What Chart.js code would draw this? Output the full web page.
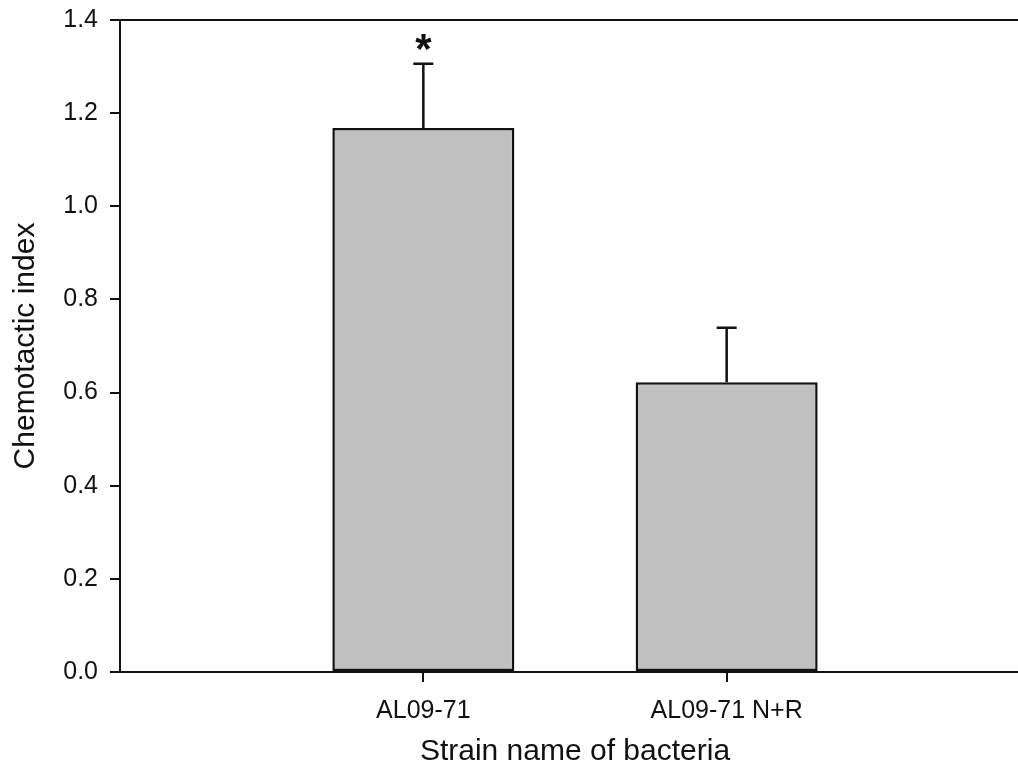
<!DOCTYPE html>
<html>
<head>
<meta charset="utf-8">
<script src="https://cdn.jsdelivr.net/npm/chart.js@4/dist/chart.umd.min.js"></script>
<style>
  html, body { margin: 0; padding: 0; background: #ffffff; overflow: hidden; }
  #wrap { width: 1018px; height: 782px; overflow: hidden; }
</style>
</head>
<body>
<div id="wrap"><canvas id="c" width="1030" height="782"></canvas></div>
<script>
// ---- data ----
const categories = ['AL09-71', 'AL09-71 N+R'];
const categoryPositions = [1, 2];
const chemotacticIndex = [1.168, 0.622];
const errorUpper = [0.138, 0.117];
const significance = ['*', ''];
const yTicks = [0.0, 0.2, 0.4, 0.6, 0.8, 1.0, 1.2, 1.4];

const INK = '#111111';
const FONT = "'Liberation Sans', Arial, Helvetica, sans-serif";

const points = categoryPositions.map((x, i) => ({ x: x, y: chemotacticIndex[i] }));

const errorBarPlugin = {
  id: 'errorBars',
  afterDatasetsDraw(chart) {
    const ctx = chart.ctx;
    const yScale = chart.scales.y;
    const meta = chart.getDatasetMeta(0);
    ctx.save();
    ctx.strokeStyle = INK;
    ctx.lineWidth = 2.5;
    meta.data.forEach((bar, i) => {
      const x = bar.x;
      const yBase = yScale.getPixelForValue(chemotacticIndex[i]);
      const yTop = yScale.getPixelForValue(chemotacticIndex[i] + errorUpper[i]);
      const cap = 10;
      ctx.beginPath();
      ctx.moveTo(x, yBase);
      ctx.lineTo(x, yTop);
      ctx.moveTo(x - cap, yTop);
      ctx.lineTo(x + cap, yTop);
      ctx.stroke();
      if (significance[i]) {
        ctx.fillStyle = INK;
        ctx.font = 'bold 42px ' + FONT;
        ctx.textAlign = 'center';
        ctx.textBaseline = 'alphabetic';
        ctx.fillText(significance[i], x, yTop - 1);
      }
    });
    ctx.restore();
  }
};

new Chart(document.getElementById('c'), {
  type: 'bar',
  data: {
    datasets: [{
      data: points,
      backgroundColor: '#c0c0c0',
      borderColor: INK,
      borderWidth: 2.5,
      borderSkipped: false,
      barPercentage: 0.6,
      categoryPercentage: 1.0
    }]
  },
  options: {
    responsive: false,
    animation: false,
    layout: { padding: { top: 20, right: 0, bottom: 0, left: 0 } },
    plugins: { legend: { display: false }, tooltip: { enabled: false } },
    scales: {
      x: {
        type: 'linear',
        position: 'bottom',
        offset: false,
        min: 0,
        max: 3,
        afterBuildTicks(scale) { scale.ticks = categoryPositions.map(v => ({ value: v })); },
        afterFit(scale) { scale.height = 110; scale.paddingLeft = 0; scale.paddingRight = 0; },
        ticks: {
          autoSkip: false,
          maxRotation: 0,
          padding: 14,
          color: INK,
          font: { family: FONT, size: 25 },
          callback(value) {
            const i = categoryPositions.indexOf(value);
            return i >= 0 ? categories[i] : '';
          }
        },
        grid: { display: true, offset: false, drawOnChartArea: false, drawTicks: true, tickLength: 10, tickWidth: 2, tickColor: INK, color: INK, lineWidth: 2 },
        border: { display: true, color: INK, width: 2 },
        title: {
          display: true,
          text: 'Strain name of bacteria',
          color: INK,
          font: { family: FONT, size: 30 },
          padding: { top: 0, bottom: 12 }
        }
      },
      x2: {
        type: 'linear',
        position: 'top',
        offset: false,
        min: 0,
        max: 3,
        afterFit(scale) { scale.height = 0; scale.paddingLeft = 0; scale.paddingRight = 0; },
        ticks: { display: false },
        grid: { display: true, offset: false, drawOnChartArea: false, drawTicks: false, color: INK, lineWidth: 2 },
        border: { display: true, color: INK, width: 2 }
      },
      y: {
        type: 'linear',
        position: 'left',
        min: 0,
        max: 1.4,
        afterBuildTicks(scale) { scale.ticks = yTicks.map(v => ({ value: v })); },
        afterFit(scale) { scale.width = 120; scale.paddingTop = 0; scale.paddingBottom = 0; },
        ticks: {
          padding: 12,
          color: INK,
          font: { family: FONT, size: 25 },
          callback(value) { return Number(value).toFixed(1); }
        },
        grid: { display: true, drawOnChartArea: false, drawTicks: true, tickLength: 10, tickWidth: 2, tickColor: INK, color: INK, lineWidth: 2 },
        border: { display: true, color: INK, width: 2 },
        title: {
          display: true,
          text: 'Chemotactic index',
          color: INK,
          font: { family: FONT, size: 30 },
          padding: { top: 8, bottom: 0 }
        }
      }
    }
  },
  plugins: [errorBarPlugin]
});
</script>
</body>
</html>
